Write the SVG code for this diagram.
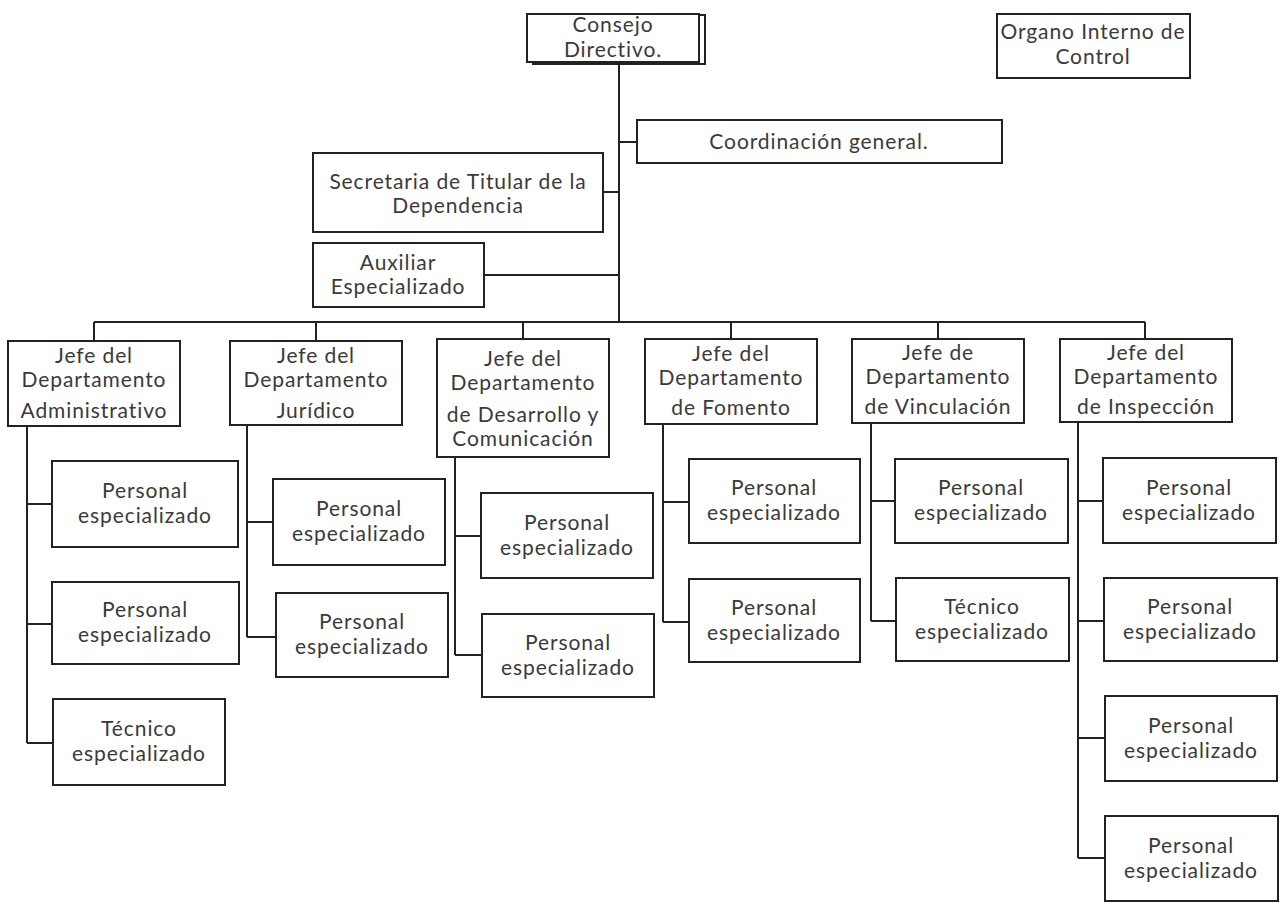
<svg xmlns="http://www.w3.org/2000/svg" width="1283" height="904" viewBox="0 0 1283 904">
<style>
.b{fill:#fff;stroke:#222;stroke-width:2}
.c{fill:none;stroke:#222;stroke-width:2}
text{font-family:Lato,"Noto Sans","Liberation Sans",sans-serif;font-size:21px;font-weight:400;letter-spacing:0.9px;fill:#3a3a3a;text-anchor:middle}
</style>
<rect width="1283" height="904" fill="#fff"/>
<g id="connectors" class="c">
<path d="M619 64V322M619 142H637M603 192H619M484 275H619"/>
<path d="M94 322H1145M94 322V341M316 322V341M523 322V339M731 322V339M938 322V339M1145 322V339"/>
<path d="M27 426V743M27 504H52M27 624H52M27 743H53"/>
<path d="M247 425V637M247 522H273M247 637H276"/>
<path d="M455 457V655M455 536H481M455 655H482"/>
<path d="M663 424V622M663 502H689M663 622H689"/>
<path d="M871 423V621M871 501H895M871 621H896"/>
<path d="M1078 422V858M1078 501H1103M1078 621H1104M1078 738H1105M1078 858H1105"/>
</g>
<g id="consejo"><polyline class="c" points="699,15 705,15 705,64 532,64"/><rect class="b" x="527" y="14" width="172" height="48"/><text x="613" y="32">Consejo</text><text x="613" y="57">Directivo.</text></g>
<g id="organo"><rect class="b" x="997" y="14" width="193" height="64"/><text x="1093" y="39">Organo Interno de</text><text x="1093" y="64">Control</text></g>
<g id="coordinacion"><rect class="b" x="637" y="120" width="365" height="43"/><text x="819" y="149">Coordinación general.</text></g>
<g id="secretaria"><rect class="b" x="313" y="153" width="290" height="79"/><text x="458" y="189">Secretaria de Titular de la</text><text x="458" y="213">Dependencia</text></g>
<g id="auxiliar"><rect class="b" x="313" y="243" width="171" height="64"/><text x="398" y="270">Auxiliar</text><text x="398" y="294">Especializado</text></g>
<g id="d1"><rect class="b" x="8" y="341" width="172" height="85"/><text x="94" y="363">Jefe del</text><text x="94" y="387">Departamento</text><text x="94" y="418">Administrativo</text></g>
<g id="d2"><rect class="b" x="230" y="341" width="172" height="84"/><text x="316" y="363">Jefe del</text><text x="316" y="387">Departamento</text><text x="316" y="418">Jurídico</text></g>
<g id="d3"><rect class="b" x="437" y="339" width="172" height="118"/><text x="523" y="366">Jefe del</text><text x="523" y="390">Departamento</text><text x="523" y="422">de Desarrollo  y</text><text x="523" y="446">Comunicación</text></g>
<g id="d4"><rect class="b" x="645" y="339" width="172" height="85"/><text x="731" y="361">Jefe del</text><text x="731" y="385">Departamento</text><text x="731" y="415">de Fomento</text></g>
<g id="d5"><rect class="b" x="852" y="339" width="172" height="84"/><text x="938" y="360">Jefe de</text><text x="938" y="384">Departamento</text><text x="938" y="414">de Vinculación</text></g>
<g id="d6"><rect class="b" x="1060" y="339" width="172" height="83"/><text x="1146" y="360">Jefe del</text><text x="1146" y="384">Departamento</text><text x="1146" y="414">de Inspección</text></g>
<g id="d1p1"><rect class="b" x="52" y="461" width="186" height="86"/><text x="145" y="498">Personal</text><text x="145" y="523">especializado</text></g>
<g id="d1p2"><rect class="b" x="52" y="582" width="187" height="82"/><text x="145" y="617">Personal</text><text x="145" y="642">especializado</text></g>
<g id="d1t"><rect class="b" x="53" y="699" width="172" height="86"/><text x="139" y="736">Técnico</text><text x="139" y="761">especializado</text></g>
<g id="d2p1"><rect class="b" x="273" y="479" width="172" height="86"/><text x="359" y="516">Personal</text><text x="359" y="541">especializado</text></g>
<g id="d2p2"><rect class="b" x="276" y="593" width="172" height="84"/><text x="362" y="629">Personal</text><text x="362" y="654">especializado</text></g>
<g id="d3p1"><rect class="b" x="481" y="493" width="172" height="85"/><text x="567" y="530">Personal</text><text x="567" y="555">especializado</text></g>
<g id="d3p2"><rect class="b" x="482" y="614" width="172" height="83"/><text x="568" y="650">Personal</text><text x="568" y="675">especializado</text></g>
<g id="d4p1"><rect class="b" x="689" y="459" width="171" height="84"/><text x="774" y="495">Personal</text><text x="774" y="520">especializado</text></g>
<g id="d4p2"><rect class="b" x="689" y="579" width="171" height="83"/><text x="774" y="615">Personal</text><text x="774" y="640">especializado</text></g>
<g id="d5p1"><rect class="b" x="895" y="459" width="173" height="84"/><text x="981" y="495">Personal</text><text x="981" y="520">especializado</text></g>
<g id="d5t"><rect class="b" x="896" y="578" width="173" height="83"/><text x="982" y="614">Técnico</text><text x="982" y="639">especializado</text></g>
<g id="d6p1"><rect class="b" x="1103" y="458" width="173" height="85"/><text x="1189" y="495">Personal</text><text x="1189" y="520">especializado</text></g>
<g id="d6p2"><rect class="b" x="1104" y="578" width="173" height="83"/><text x="1190" y="614">Personal</text><text x="1190" y="639">especializado</text></g>
<g id="d6p3"><rect class="b" x="1105" y="696" width="172" height="85"/><text x="1191" y="733">Personal</text><text x="1191" y="758">especializado</text></g>
<g id="d6p4"><rect class="b" x="1105" y="816" width="173" height="85"/><text x="1191" y="853">Personal</text><text x="1191" y="878">especializado</text></g>
</svg>
